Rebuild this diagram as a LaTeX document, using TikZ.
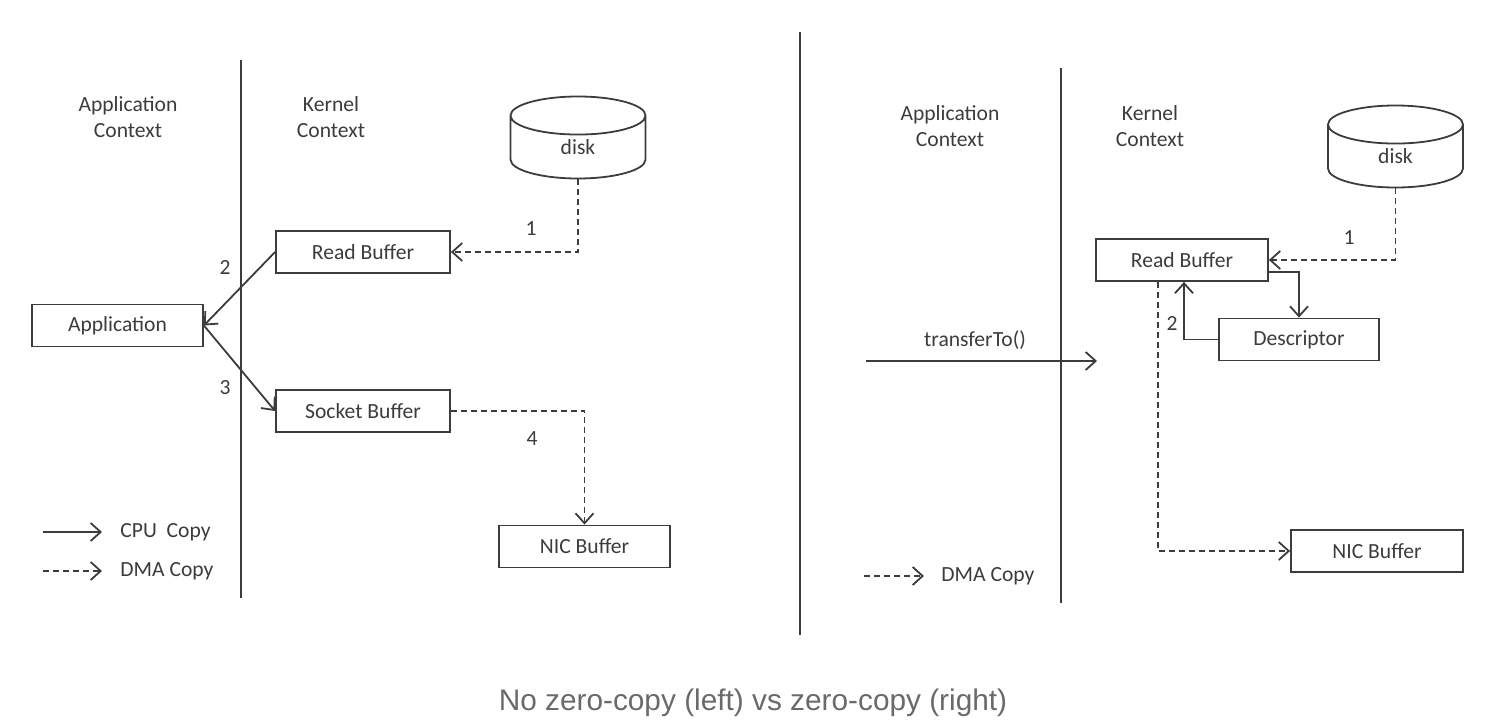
\documentclass[tikz,border=0pt]{standalone}
\usepackage{fontspec}
\setmainfont{Carlito}
\newfontfamily\capfont{Liberation Sans}
\usetikzlibrary{shapes.geometric,arrows.meta}

\definecolor{ink}{HTML}{3C3C3C}
\definecolor{capgray}{HTML}{6A6A6A}

\begin{document}
\begin{tikzpicture}[x=0.5pt,y=-0.5pt]
	\tikzstyle{every node}=[text=ink,font=\fontsize{10.8}{12.6}\selectfont]
	\tikzstyle{buf}=[draw=ink,line width=0.9pt,minimum height=21pt,inner sep=0pt]
	\tikzstyle{cpu}=[draw=ink,line width=0.9pt,-{Straight Barb[length=5pt,width=9pt]}]
	\tikzstyle{dma}=[cpu,dash pattern=on 3pt off 2pt]
	\tikzstyle{sep}=[draw=ink,line width=1pt]
	\tikzstyle{store}=[draw=ink,line width=0.9pt,cylinder,shape border rotate=90,aspect=1.1,minimum width=67.5pt,minimum height=41pt,inner sep=0pt,anchor=shape center]
	\useasboundingbox (0,0) rectangle (1496,728);

	% left: no zero-copy
	\draw[sep] (241,60) -- (241,598);
	\node[align=center] (appctxL) at (128,117) {Application\\Context};
	\node[align=center] (kerctxL) at (331,117) {Kernel\\Context};
	\node[store] (diskL) at (578,137.5) {disk};
	\node[buf,minimum width=87pt] (readL) at (363,252) {Read Buffer};
	\node[buf,minimum width=85.5pt] (app) at (117.5,325.5) {Application};
	\node[buf,minimum width=87pt] (sockL) at (363,411) {Socket Buffer};
	\node[buf,minimum width=85.5pt] (nicL) at (584.5,546.5) {NIC Buffer};
	\draw[dma] (diskL.south) |- (readL.east);
	\draw[cpu] (readL.west) -- (app.east);
	\draw[cpu] (app.east) -- (sockL.west);
	\draw[dma] (sockL.east) -| (nicL.north);
	\node (oneL) at (531,229) {1};
	\node (twoL) at (225,267) {2};
	\node (threeL) at (225,388) {3};
	\node (fourL) at (532,439) {4};
	\coordinate (cpuA) at (43,532);
	\coordinate (cpuB) at (102,532);
	\coordinate (dmaA) at (43,571);
	\coordinate (dmaB) at (102,571);
	\draw[cpu] (cpuA) -- (cpuB);
	\draw[dma] (dmaA) -- (dmaB);
	\node[anchor=west,inner sep=0pt] (cpuL) at (120,532) {CPU\ \ Copy};
	\node[anchor=west,inner sep=0pt] (dmaL) at (120,571) {DMA Copy};

	\draw[sep] (800,32) -- (800,635);

	% right: zero-copy
	\draw[sep] (1061,68) -- (1061,603);
	\node[align=center] (appctxR) at (950,126) {Application\\Context};
	\node[align=center] (kerctxR) at (1150,126) {Kernel\\Context};
	\node[store] (diskR) at (1395.5,146.5) {disk};
	\node[buf,minimum width=86pt] (readR) at (1182,260) {Read Buffer};
	\node[buf,minimum width=80pt] (desc) at (1299,339.5) {Descriptor};
	\node[buf,minimum width=86pt] (nicR) at (1377,551) {NIC Buffer};
	\coordinate (callA) at (866,361);
	\coordinate (callB) at (1097,361);
	\draw[cpu] (callA) -- (callB);
	\node (call) at (975,340) {transferTo()};
	\draw[dma] (diskR.south) |- (readR.east);
	\draw[cpu] ([yshift=-6pt]readR.east) -| (desc.north);
	\draw[cpu] (desc.west) -| ([xshift=1pt]readR.south);
	\draw[dma] ([xshift=-12pt]readR.south) |- (nicR.west);
	\node (oneR) at (1349,238) {1};
	\node (twoR) at (1172,323) {2};
	\coordinate (dmaRA) at (864,576);
	\coordinate (dmaRB) at (924,576);
	\draw[dma] (dmaRA) -- (dmaRB);
	\node[anchor=west,inner sep=0pt] (dmaRL) at (941,576) {DMA Copy};

	\node[text=capgray,font=\capfont\fontsize{14.9}{17}\selectfont] (caption) at (753,703) {No zero-copy (left) vs zero-copy (right)};
\end{tikzpicture}
\end{document}
